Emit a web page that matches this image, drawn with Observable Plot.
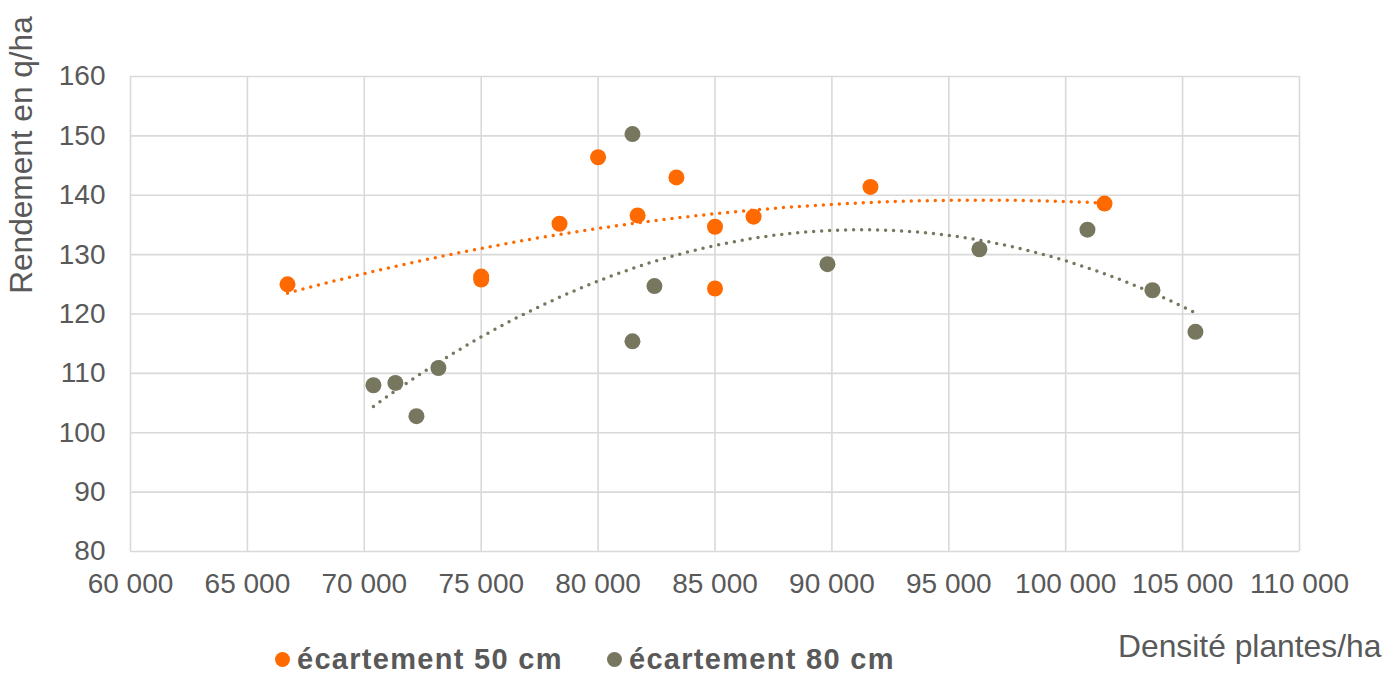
<!DOCTYPE html>
<html><head><meta charset="utf-8">
<script src="https://cdn.jsdelivr.net/npm/d3@7"></script>
<script src="https://cdn.jsdelivr.net/npm/@observablehq/plot@0.6"></script>
<style>
body{margin:0;background:#fff;}
#wrap{position:relative;width:1389px;height:673px;font-family:"Liberation Sans",Arial,sans-serif;color:#595959;}
#chart{position:absolute;left:0;top:0;}
.abs{position:absolute;white-space:nowrap;line-height:1;}
#ytitle{left:22px;top:155px;font-size:31.6px;transform:translate(-50%,-50%) rotate(-90deg);}
#xtitle{left:1118px;top:631px;font-size:31.8px;}
.leg{font-size:29px;font-weight:bold;letter-spacing:1.3px;top:647px;line-height:0.85;}
.sw{position:absolute;width:15px;height:15px;border-radius:50%;}
</style></head><body>
<div id="wrap">
<div id="chart"></div>
<div id="ytitle" class="abs">Rendement en q/ha</div>
<div id="xtitle" class="abs">Densité plantes/ha</div>
<div id="legend"></div>
</div>
<script>
const seriesNames = ["écartement 50 cm", "écartement 80 cm"];
const seriesColors = ["#ff6a00", "#77775f"];
const x50 = [66715, 75000, 75000, 78350, 80000, 81690, 83350, 85000, 85000, 86650, 91650, 101660];
const y50 = [125.0, 126.3, 125.8, 135.2, 146.4, 136.6, 143.0, 134.7, 124.3, 136.4, 141.4, 138.6];
const x80 = [70390, 71330, 72230, 73170, 81470, 81470, 82410, 89810, 96310, 100930, 103710, 105550];
const y80 = [108.0, 108.4, 102.8, 110.9, 150.3, 115.4, 124.7, 128.4, 130.9, 134.2, 124.0, 117.0];
const xTicks = [60000, 65000, 70000, 75000, 80000, 85000, 90000, 95000, 100000, 105000, 110000];
const yTicks = [80, 90, 100, 110, 120, 130, 140, 150, 160];

const fmt = d => d3.format(",")(d).replace(/,/g, " ");

// quadratic least-squares trend (as in the spreadsheet's polynomial trendline)
function quadFit(xs, ys) {
  const m = d3.mean(xs) / 1000;
  const u = xs.map(x => x / 1000 - m);
  let S = [0,0,0,0,0], T = [0,0,0];
  u.forEach((v, i) => {
    for (let k = 0; k < 5; k++) S[k] += Math.pow(v, k);
    for (let k = 0; k < 3; k++) T[k] += Math.pow(v, k) * ys[i];
  });
  const A = [[S[0],S[1],S[2],T[0]],[S[1],S[2],S[3],T[1]],[S[2],S[3],S[4],T[2]]];
  for (let i = 0; i < 3; i++) {
    for (let j = i + 1; j < 3; j++) {
      const f = A[j][i] / A[i][i];
      for (let k = i; k < 4; k++) A[j][k] -= f * A[i][k];
    }
  }
  const c = [0,0,0];
  for (let i = 2; i >= 0; i--) {
    let s = A[i][3];
    for (let k = i + 1; k < 3; k++) s -= A[i][k] * c[k];
    c[i] = s / A[i][i];
  }
  const lo = d3.min(xs), hi = d3.max(xs);
  return d3.range(0, 101).map(i => {
    const x = lo + (hi - lo) * i / 100, v = x / 1000 - m;
    return {x, y: c[0] + c[1] * v + c[2] * v * v};
  });
}

const pts50 = x50.map((x, i) => ({x, y: y50[i]}));
const pts80 = x80.map((x, i) => ({x, y: y80[i]}));
const trend50 = quadFit(x50, y50);
const trend80 = quadFit(x80, y80);

const plot = Plot.plot({
  width: 1389, height: 610,
  marginLeft: 130, marginRight: 90, marginTop: 76, marginBottom: 59,
  style: {fontFamily: '"Liberation Sans", Arial, sans-serif', fontSize: "28px", color: "#595959", background: "white", overflow: "visible"},
  x: {domain: [60000, 110000], label: null},
  y: {domain: [80, 160], label: null},
  marks: [
    Plot.gridX(xTicks, {stroke: "#d9d9d9", strokeOpacity: 1, strokeWidth: 1.6}),
    Plot.gridY(yTicks, {stroke: "#d9d9d9", strokeOpacity: 1, strokeWidth: 1.6}),
    Plot.axisX(xTicks, {tickSize: 0, tickPadding: 22, tickFormat: fmt, label: null}),
    Plot.axisY(yTicks, {tickSize: 0, tickPadding: 25, label: null}),
    Plot.dot(pts50, {x: "x", y: "y", r: 8, fill: seriesColors[0]}),
    Plot.dot(pts80, {x: "x", y: "y", r: 8, fill: seriesColors[1]}),
    Plot.line(trend50, {x: "x", y: "y", stroke: seriesColors[0], strokeWidth: 3.5, strokeDasharray: "0 8", strokeLinecap: "round"}),
    Plot.line(trend80, {x: "x", y: "y", stroke: seriesColors[1], strokeWidth: 3.5, strokeDasharray: "0 8", strokeLinecap: "round"})
  ]
});
document.getElementById("chart").appendChild(plot);

const legPos = [{dot: 282, text: 297}, {dot: 614, text: 629}];
const leg = document.getElementById("legend");
seriesNames.forEach((name, i) => {
  const sw = document.createElement("div");
  sw.className = "sw";
  sw.style.left = (legPos[i].dot - 7.5) + "px";
  sw.style.top = (659 - 7.5) + "px";
  sw.style.background = seriesColors[i];
  leg.appendChild(sw);
  const t = document.createElement("div");
  t.className = "abs leg";
  t.style.left = legPos[i].text + "px";
  t.textContent = name;
  leg.appendChild(t);
});
</script>
</body></html>
